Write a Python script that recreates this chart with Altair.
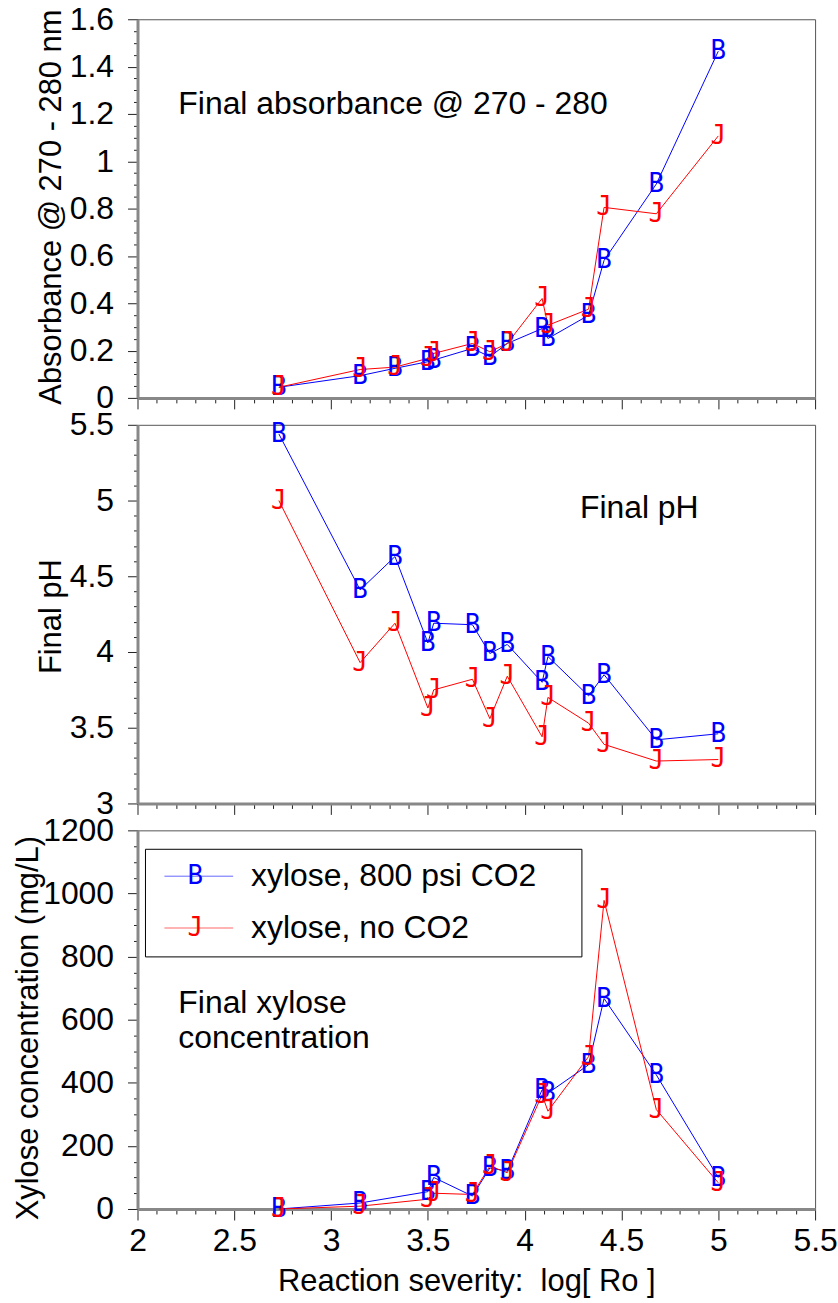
import altair as alt
import pandas as pd

# ---------------- data ----------------
series_names = ["xylose, 800 psi CO2", "xylose, no CO2"]
marker_letters = ["B", "J"]
series_colors = ["#0000ff", "#ff0000"]

severity = [2.73, 3.15, 3.33, 3.50, 3.53, 3.73, 3.82, 3.91, 4.09, 4.12, 4.33, 4.41, 4.68, 5.00]
absorb_co2 = [0.045, 0.094, 0.125, 0.153, 0.16, 0.209, 0.174, 0.23, 0.293, 0.251, 0.349, 0.581, 0.904, 1.465]
absorb_noco2 = [0.045, 0.12, 0.13, 0.167, 0.188, 0.23, 0.195, 0.23, 0.42, 0.307, 0.375, 0.805, 0.778, 1.107]
ph_co2 = [5.44, 4.41, 4.63, 4.06, 4.19, 4.18, 3.99, 4.05, 3.80, 3.97, 3.71, 3.85, 3.42, 3.46]
ph_noco2 = [5.00, 3.93, 4.19, 3.63, 3.75, 3.82, 3.56, 3.84, 3.44, 3.70, 3.53, 3.39, 3.28, 3.29]

severity_xyl = [2.73, 3.15, 3.50, 3.53, 3.73, 3.82, 3.91, 4.09, 4.12, 4.33, 4.41, 4.68, 5.00]
xylose_co2 = [0, 19, 55, 100, 41, 130, 120, 378, 367, 457, 667, 425, 99]
xylose_noco2 = [0, 9, 31, 50, 46, 136, 115, 362, 310, 483, 978, 315, 83]

x_title = "Reaction severity:\u00a0 log[ Ro ]"
y_titles = ["Absorbance @ 270 - 280 nm", "Final pH", "Xylose concentration (mg/L)"]
panel_notes = [["Final absorbance @ 270 - 280"], ["Final pH"], ["Final xylose", "concentration"]]


def long_df(xs, ys_a, ys_b):
    rows = []
    for name, letter, ys in zip(series_names, marker_letters, [ys_a, ys_b]):
        for xv, yv in zip(xs, ys):
            rows.append({"severity": xv, "value": yv, "series": name, "marker": letter})
    return pd.DataFrame(rows)


df_abs = long_df(severity, absorb_co2, absorb_noco2)
df_ph = long_df(severity, ph_co2, ph_noco2)
df_xyl = long_df(severity_xyl, xylose_co2, xylose_noco2)

# ---------------- styling ----------------
FONT = "Liberation Sans"
MARK_FONT = "DejaVu Sans Mono"
color_scale = alt.Scale(domain=series_names, range=series_colors)


def tick_list(lo, hi, step):
    n = int(round((hi - lo) / step))
    return [round(lo + i * step, 6) for i in range(n + 1)]


def major_test(step):
    return f"abs(datum.value / {step} - round(datum.value / {step})) < 1e-6"


def x_axis(show_labels):
    test = major_test(0.5)
    kw = dict(
        values=tick_list(2.0, 5.5, 0.1),
        labelExpr=f"{test} ? format(datum.value, '~g') : ''",
        tickSize={"condition": {"test": test, "value": 11}, "value": 5},
        labelOverlap=False,
        labelFlush=False,
        labelPadding=6,
        grid=False,
        labels=show_labels,
    )
    if show_labels:
        kw.update(title=x_title, titleX=330, titleY=82, titleAlign="center",
                  titleBaseline="alphabetic", titleFontSize=31)
    else:
        kw.update(title=None)
    return alt.Axis(**kw)


def y_axis(lo, hi, minor, major, title, title_x, title_y):
    test = major_test(major)
    return alt.Axis(
        values=tick_list(lo, hi, minor),
        labelExpr=f"{test} ? format(datum.value, '~g') : ''",
        tickSize={"condition": {"test": test, "value": 10}, "value": 4},
        labelOverlap=False,
        labelFlush=False,
        labelPadding=14,
        grid=False,
        title=title,
        titleX=title_x,
        titleY=title_y,
        titleAngle=270,
        titleAlign="center",
        titleBaseline="alphabetic",
        titleFontSize=31,
    )


def legend_layers():
    """Boxed key in the upper-left corner of the xylose panel."""
    box = alt.Chart(pd.DataFrame({"key": ["legend"]})).mark_rect(
        fill="white", stroke="black", strokeWidth=1
    ).encode(x=alt.value(8), x2=alt.value(446), y=alt.value(19), y2=alt.value(127))
    out = [box]
    for i, (name, letter, color) in enumerate(zip(series_names, marker_letters, series_colors)):
        row_y = 46 + 52 * i
        entry = alt.Chart(pd.DataFrame({"series": [name], "marker": [letter]}))
        out.append(entry.mark_rule(color=color, strokeWidth=1, opacity=0.6).encode(
            x=alt.value(27), x2=alt.value(96), y=alt.value(row_y)))
        out.append(entry.mark_text(font=MARK_FONT, fontSize=26, color=color,
                                   align="center", baseline="middle").encode(
            x=alt.value(58), y=alt.value(row_y), text="marker:N"))
        out.append(entry.mark_text(font=FONT, fontSize=32, color="black",
                                   align="left", baseline="middle").encode(
            x=alt.value(114), y=alt.value(row_y), text="series:N"))
    return out


def panel(df, ylo, yhi, yminor, ymajor, ytitle, title_x, title_y, note, note_dx, note_dy, bottom=False):
    x_enc = alt.X("severity:Q", scale=alt.Scale(domain=[2, 5.5], nice=False, zero=False),
                  axis=x_axis(bottom))
    y_enc = alt.Y("value:Q", scale=alt.Scale(domain=[ylo, yhi], nice=False, zero=False),
                  axis=y_axis(ylo, yhi, yminor, ymajor, ytitle, title_x, title_y))
    base = alt.Chart(df)
    lines = base.mark_line(strokeWidth=1).encode(
        x=x_enc, y=y_enc,
        color=alt.Color("series:N", scale=color_scale, legend=None),
    )
    letters = base.mark_text(font=MARK_FONT, fontSize=26, baseline="middle", align="center").encode(
        x=x_enc, y=y_enc, text="marker:N",
        color=alt.Color("series:N", scale=color_scale, legend=None),
    )
    layers = [lines, letters]
    if bottom:
        layers += legend_layers()
    return alt.layer(*layers).properties(
        width=680, height=380,
        title=alt.TitleParams(
            text=note, anchor="start", frame="group", orient="top", offset=0,
            dx=note_dx, dy=note_dy, baseline="alphabetic", font=FONT, fontSize=32,
            fontWeight="normal", color="black", lineHeight=35,
        ),
    )


top = panel(df_abs, 0, 1.6, 0.05, 0.2, y_titles[0], -77, 188, panel_notes[0], 41, 143)
mid = panel(df_ph, 3, 5.5, 0.1, 0.5, y_titles[1], -77, 192, panel_notes[1], 444, 142)
bot = panel(df_xyl, 0, 1200, 50, 200, y_titles[2], -100, 198, panel_notes[2], 41, 266, bottom=True)

chart = alt.vconcat(top, mid, bot, spacing=27, bounds="flush").resolve_scale(
    color="independent"
).properties(
    padding={"left": 12, "top": 0, "right": 0, "bottom": 0},
    background="white",
).configure_view(
    stroke="#555555", strokeWidth=1
).configure_axis(
    domainColor="#888888", domainWidth=3, tickColor="#222222", tickWidth=1,
    labelFont=FONT, labelFontSize=32, labelColor="black",
    titleFont=FONT, titleFontWeight="normal", titleColor="black",
)

chart.save("out.html", embed_options={"renderer": "svg", "actions": False})
